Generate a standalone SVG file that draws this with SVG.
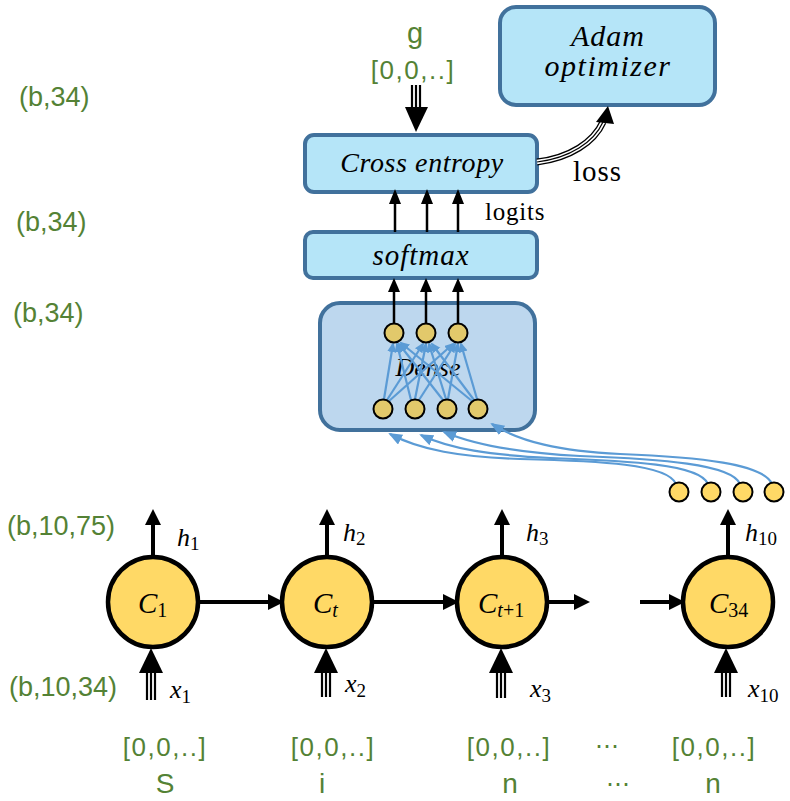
<svg xmlns="http://www.w3.org/2000/svg" width="790" height="801" viewBox="0 0 790 801">
<defs>
<style>
.box{fill:#b5e5f8;stroke:#41719c;stroke-width:4}
.dense{fill:#bdd7ee;stroke:#41719c;stroke-width:4}
.cell{fill:#ffd966;stroke:#000;stroke-width:4.5}
.neu{fill:#e2c96b;stroke:#000;stroke-width:2}
.neu2{fill:#ffd966;stroke:#000;stroke-width:2}
.g{fill:#548235;font-family:"Liberation Sans",Arial,sans-serif}
.br{fill:#548235;font-family:"Liberation Sans",Arial,sans-serif;font-size:26px;letter-spacing:1.5px}
.it{font-family:"Liberation Serif","DejaVu Serif",serif;font-style:italic;fill:#000}
.rm{font-family:"Liberation Serif","DejaVu Serif",serif;fill:#000}
.thick{stroke:#000;stroke-width:4;fill:none}
.thin{stroke:#000;stroke-width:2.5;fill:none}
.blue{stroke:#5b9bd5;stroke-width:2.2;fill:none}
.tri{stroke:#000;stroke-width:2.2}
</style>
<marker id="ab" markerWidth="12" markerHeight="12" refX="8" refY="4.5" orient="auto" markerUnits="userSpaceOnUse">
<path d="M0,0 L10,4.5 L0,9 z" fill="#5b9bd5"/>
</marker>
<marker id="ab2" markerWidth="16" markerHeight="16" refX="12" refY="5.5" orient="auto" markerUnits="userSpaceOnUse">
<path d="M0,0 L14,5.5 L0,11 z" fill="#5b9bd5"/>
</marker>
</defs>
<rect width="790" height="801" fill="#fff"/>

<g id="dims">
<text class="g" x="19" y="106" font-size="27">(b,34)</text>
<text class="g" x="16" y="231" font-size="27">(b,34)</text>
<text class="g" x="13" y="322" font-size="27">(b,34)</text>
<text class="g" x="7" y="535" font-size="27">(b,10,75)</text>
<text class="g" x="9" y="696" font-size="27">(b,10,34)</text>
</g>

<g id="adam">
<rect class="box" x="500" y="7" width="215" height="98" rx="16"/>
<text class="it" x="608" y="46" font-size="30" letter-spacing="1" text-anchor="middle">Adam</text>
<text class="it" x="608" y="76" font-size="30" letter-spacing="1.5" text-anchor="middle">optimizer</text>
</g>
<g id="crossentropy">
<rect class="box" x="305" y="135" width="232" height="57" rx="9"/>
<text class="it" x="422" y="172" font-size="28" letter-spacing="0.6" text-anchor="middle">Cross entropy</text>
</g>
<g id="softmax">
<rect class="box" x="305" y="232" width="232" height="46" rx="8"/>
<text class="it" x="421" y="265" font-size="29" letter-spacing="1" text-anchor="middle">softmax</text>
</g>
<g id="dense">
<rect class="dense" x="320" y="303" width="215" height="127" rx="20"/>
<text class="it" x="428" y="376" font-size="26" text-anchor="middle" fill="#222">Dense</text>
</g>

<g id="g-label">
<text class="g" x="415" y="43" font-size="29" text-anchor="middle">g</text>
<text class="br" x="413" y="79" text-anchor="middle">[0,0,..]</text>
</g>

<g id="connectors">
<line class="tri" x1="412" y1="85" x2="412" y2="110"/>
<line class="tri" x1="416" y1="85" x2="416" y2="110"/>
<line class="tri" x1="420" y1="85" x2="420" y2="110"/>
<polygon points="405,107 428,107 416,132" fill="#000"/>
<path d="M537,162 C570,158 594,142 603,122" stroke="#000" stroke-width="7" fill="none"/>
<path d="M537,162 C570,158 594,142 603,122" stroke="#fff" stroke-width="4.4" fill="none"/>
<path d="M537,162 C570,158 594,142 603,122" stroke="#000" stroke-width="1.2" fill="none"/>
<polygon points="596,122 614,124 608,106" fill="#000"/>
<line class="thin" x1="395" y1="232" x2="395" y2="200"/>
<line class="thin" x1="427" y1="232" x2="427" y2="200"/>
<line class="thin" x1="458" y1="232" x2="458" y2="200"/>
<polygon points="389,204 401,204 395,189" fill="#000"/>
<polygon points="421,204 433,204 427,189" fill="#000"/>
<polygon points="452,204 464,204 458,189" fill="#000"/>
<line class="thin" x1="394" y1="323" x2="394" y2="288"/>
<line class="thin" x1="426" y1="323" x2="426" y2="288"/>
<line class="thin" x1="458" y1="323" x2="458" y2="288"/>
<polygon points="388,292 400,292 394,278" fill="#000"/>
<polygon points="420,292 432,292 426,278" fill="#000"/>
<polygon points="452,292 464,292 458,278" fill="#000"/>
<g marker-end="url(#ab)">
<line class="blue" x1="384" y1="399" x2="393" y2="344"/>
<line class="blue" x1="387" y1="400" x2="423" y2="344"/>
<line class="blue" x1="389" y1="401" x2="453" y2="344"/>
<line class="blue" x1="411" y1="400" x2="397" y2="344"/>
<line class="blue" x1="415" y1="399" x2="426" y2="344"/>
<line class="blue" x1="419" y1="400" x2="455" y2="344"/>
<line class="blue" x1="443" y1="400" x2="399" y2="344"/>
<line class="blue" x1="446" y1="399" x2="429" y2="344"/>
<line class="blue" x1="448" y1="399" x2="458" y2="344"/>
<line class="blue" x1="472" y1="401" x2="401" y2="343"/>
<line class="blue" x1="474" y1="400" x2="432" y2="344"/>
<line class="blue" x1="477" y1="399" x2="461" y2="344"/>
</g>
<g marker-end="url(#ab2)">
<path class="blue" d="M676,484 C668,464 600,461 520,459 C460,457 420,450 390,434"/>
<path class="blue" d="M708,484 C700,464 630,461 550,458 C490,455 450,449 421,435"/>
<path class="blue" d="M740,484 C732,464 660,459 580,456 C520,453 475,445 444,432"/>
<path class="blue" d="M772,484 C764,464 700,457 620,454 C560,451 520,442 492,424"/>
</g>
<line class="thick" x1="198" y1="602" x2="270" y2="602"/>
<polygon points="268,594 284,602 268,610" fill="#000"/>
<line class="thick" x1="373" y1="602" x2="445" y2="602"/>
<polygon points="443,594 459,602 443,610" fill="#000"/>
<line class="thick" x1="548" y1="602" x2="578" y2="602"/>
<polygon points="574,594 590,602 574,610" fill="#000"/>
<line class="thick" x1="640" y1="602" x2="672" y2="602"/>
<polygon points="669,594 685,602 669,610" fill="#000"/>
<line class="thick" x1="153" y1="557" x2="153" y2="522"/>
<polygon points="145,525 161,525 153,509" fill="#000"/>
<line class="thick" x1="327" y1="557" x2="327" y2="522"/>
<polygon points="319,525 335,525 327,509" fill="#000"/>
<line class="thick" x1="502" y1="557" x2="502" y2="522"/>
<polygon points="494,525 510,525 502,509" fill="#000"/>
<line class="thick" x1="728" y1="557" x2="728" y2="522"/>
<polygon points="720,525 736,525 728,509" fill="#000"/>
<g>
<line class="tri" x1="147" y1="670" x2="147" y2="700"/><line class="tri" x1="151" y1="670" x2="151" y2="700"/><line class="tri" x1="155" y1="670" x2="155" y2="700"/>
<polygon points="139,673 163,673 151,648" fill="#000"/>
<line class="tri" x1="322" y1="670" x2="322" y2="697"/><line class="tri" x1="326" y1="670" x2="326" y2="697"/><line class="tri" x1="330" y1="670" x2="330" y2="697"/>
<polygon points="314,673 338,673 326,648" fill="#000"/>
<line class="tri" x1="497" y1="670" x2="497" y2="698"/><line class="tri" x1="501" y1="670" x2="501" y2="698"/><line class="tri" x1="505" y1="670" x2="505" y2="698"/>
<polygon points="489,673 513,673 501,648" fill="#000"/>
<line class="tri" x1="722" y1="670" x2="722" y2="697"/><line class="tri" x1="726" y1="670" x2="726" y2="697"/><line class="tri" x1="730" y1="670" x2="730" y2="697"/>
<polygon points="714,673 738,673 726,648" fill="#000"/>
</g>
</g>

<g id="dense-out">
<circle class="neu" cx="394" cy="333" r="9.5"/>
<circle class="neu" cx="426" cy="333" r="9.5"/>
<circle class="neu" cx="458" cy="333" r="9.5"/>
</g>
<g id="dense-in">
<circle class="neu" cx="383" cy="409" r="9.5"/>
<circle class="neu" cx="415" cy="409" r="9.5"/>
<circle class="neu" cx="447" cy="409" r="9.5"/>
<circle class="neu" cx="478" cy="409" r="9.5"/>
</g>
<g id="h10-vector">
<circle class="neu2" cx="679" cy="492" r="9.5"/>
<circle class="neu2" cx="711" cy="492" r="9.5"/>
<circle class="neu2" cx="743" cy="492" r="9.5"/>
<circle class="neu2" cx="774" cy="492" r="9.5"/>
</g>

<text class="rm" x="573" y="181" font-size="29" letter-spacing="1">loss</text>
<text class="rm" x="485" y="220" font-size="25" letter-spacing="0.8">logits</text>

<g id="cell1">
<circle class="cell" cx="153" cy="602" r="45"/>
<text class="it" x="138" y="613" font-size="29">C<tspan font-style="normal" font-size="20" dy="4">1</tspan></text>
<text class="it" x="177" y="546" font-size="26">h<tspan font-style="normal" font-size="19" dy="4">1</tspan></text>
<text class="it" x="170" y="698" font-size="26">x<tspan font-style="normal" font-size="19" dy="5">1</tspan></text>
</g>
<g id="cellt">
<circle class="cell" cx="327" cy="602" r="45"/>
<text class="it" x="313" y="613" font-size="29">C<tspan font-size="20" dy="4">t</tspan></text>
<text class="it" x="343" y="541" font-size="26">h<tspan font-style="normal" font-size="19" dy="4">2</tspan></text>
<text class="it" x="345" y="692" font-size="26">x<tspan font-style="normal" font-size="19" dy="5">2</tspan></text>
</g>
<g id="cellt1">
<circle class="cell" cx="502" cy="602" r="45"/>
<text class="it" x="478" y="613" font-size="29">C<tspan font-size="20" dy="4">t<tspan font-style="normal">+1</tspan></tspan></text>
<text class="it" x="526" y="541" font-size="26">h<tspan font-style="normal" font-size="19" dy="4">3</tspan></text>
<text class="it" x="530" y="697" font-size="26">x<tspan font-style="normal" font-size="19" dy="5">3</tspan></text>
</g>
<g id="cell34">
<circle class="cell" cx="728" cy="602" r="45"/>
<text class="it" x="709" y="613" font-size="29">C<tspan font-style="normal" font-size="20" dy="4">34</tspan></text>
<text class="it" x="745" y="541" font-size="26">h<tspan font-style="normal" font-size="19" dy="4">10</tspan></text>
<text class="it" x="748" y="697" font-size="26">x<tspan font-style="normal" font-size="19" dy="5">10</tspan></text>
</g>

<g id="inputs">
<text class="br" x="165" y="756" text-anchor="middle">[0,0,..]</text>
<text class="g" x="165" y="793" font-size="28" text-anchor="middle">S</text>
<text class="br" x="333" y="756" text-anchor="middle">[0,0,..]</text>
<text class="g" x="322" y="793" font-size="28" text-anchor="middle">i</text>
<text class="br" x="509" y="756" text-anchor="middle">[0,0,..]</text>
<text class="g" x="510" y="793" font-size="28" text-anchor="middle">n</text>
<text x="607" y="754" font-size="24" text-anchor="middle" fill="#548235" font-family="DejaVu Sans,sans-serif">⋯</text>
<text x="618" y="792" font-size="24" text-anchor="middle" fill="#548235" font-family="DejaVu Sans,sans-serif">⋯</text>
<text class="br" x="714" y="756" text-anchor="middle">[0,0,..]</text>
<text class="g" x="713" y="793" font-size="28" text-anchor="middle">n</text>
</g>
</svg>
